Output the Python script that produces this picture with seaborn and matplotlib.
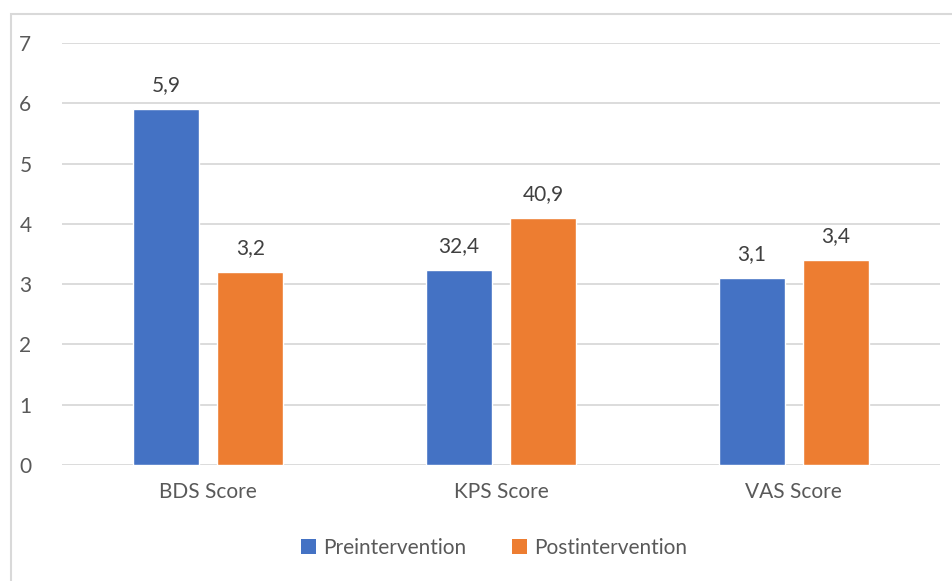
import matplotlib
matplotlib.use("Agg")
import matplotlib.pyplot as plt
from matplotlib.patches import Rectangle, Patch
import seaborn as sns
import pandas as pd

categories = ["BDS Score", "KPS Score", "VAS Score"]
pre_values = [5.9, 32.4, 3.1]
post_values = [3.2, 40.9, 3.4]
# KPS is on a 0-100 scale, so it is shown at one tenth on the shared axis
display_scale = [1.0, 0.1, 1.0]
series_names = ["Preintervention", "Postintervention"]
colors = ["#4472C4", "#ED7D31"]
y_ticks = [0, 1, 2, 3, 4, 5, 6, 7]

rows = []
for name, vals in zip(series_names, [pre_values, post_values]):
    for cat, v, s in zip(categories, vals, display_scale):
        rows.append({"category": cat, "series": name, "value": v, "height": v * s})
df = pd.DataFrame(rows)

sns.set_theme(style="white")
plt.rcParams["font.family"] = ["Lato", "DejaVu Sans"]

fig = plt.figure(figsize=(9.53, 5.81), dpi=100)
ax = fig.add_axes([62 / 953, 1 - 465 / 581, (940 - 62) / 953, (465 - 43) / 581])

sns.barplot(data=df, x="category", y="height", hue="series", order=categories,
            hue_order=series_names, palette=colors, width=0.574, gap=0.214,
            saturation=1, ax=ax, legend=False, errorbar=None)

for container, name in zip(ax.containers, series_names):
    labels = [f"{v:.1f}".replace(".", ",") for v in df[df["series"] == name]["value"]]
    ax.bar_label(container, labels=labels, padding=10, fontsize=15, color="#404040")

ax.set_xlim(-0.5, 2.5)
ax.set_ylim(0, 7)
ax.set_yticks(y_ticks)
ax.set_yticklabels([str(t) for t in y_ticks])
ax.yaxis.grid(True, color="#D9D9D9", linewidth=1.3)
ax.set_axisbelow(True)
for sp in ax.spines.values():
    sp.set_visible(False)
ax.tick_params(axis="both", length=0, labelsize=15, labelcolor="#595959")
ax.tick_params(axis="y", pad=22)
ax.tick_params(axis="x", pad=12)
ax.set_xlabel("")
ax.set_ylabel("")

handles = [Patch(facecolor=c, edgecolor="none") for c in colors]
fig.legend(handles, series_names, loc="center", bbox_to_anchor=(494 / 953, 1 - 548 / 581),
           ncol=2, frameon=False, fontsize=15, labelcolor="#595959",
           handlelength=0.7, handleheight=0.7, handletextpad=0.35, columnspacing=2.2)

# outer chart frame
fig.patches.append(Rectangle((11 / 953, -0.05), 1.1, 1 - 14 / 581 + 0.05,
                             transform=fig.transFigure, fill=False,
                             edgecolor="#D9D9D9", linewidth=1.5, clip_on=False))

fig.savefig("out.png", dpi=100)
